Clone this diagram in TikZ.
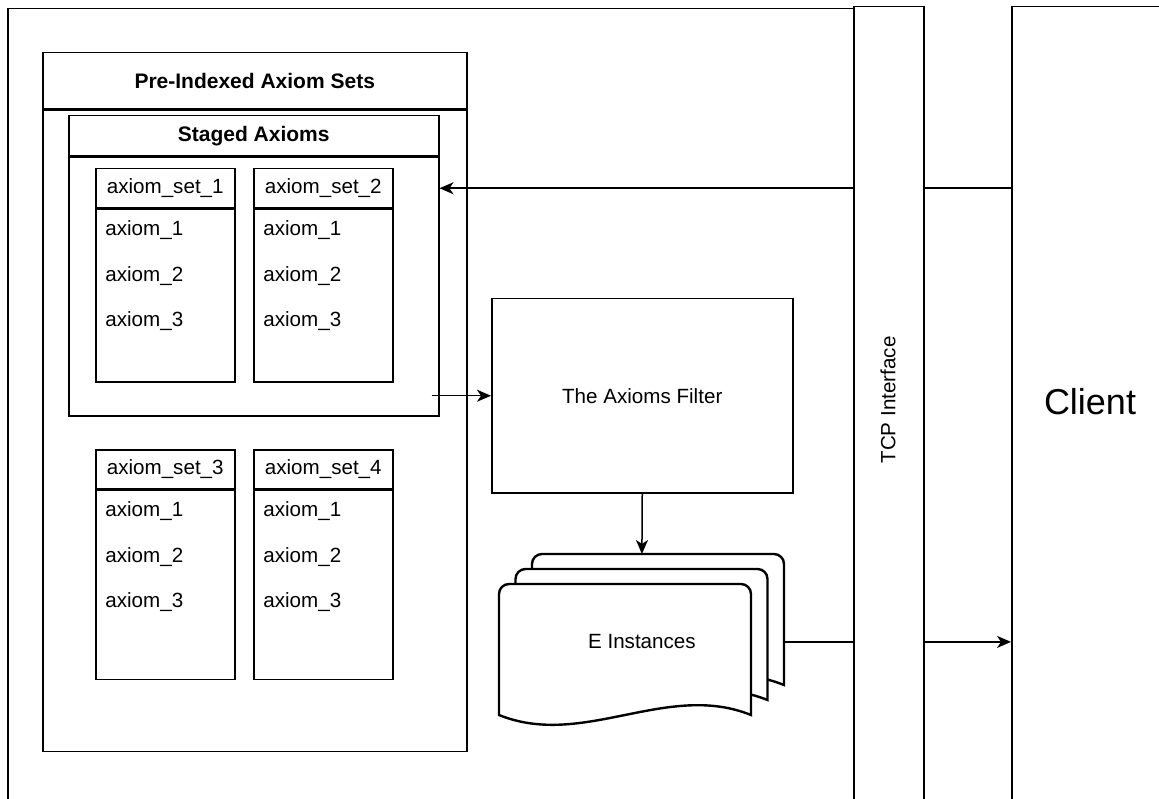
\documentclass[tikz,border=0pt]{standalone}
\usepackage{fontspec}
\setmainfont{Liberation Sans}
\usetikzlibrary{arrows.meta,positioning,calc}
\definecolor{lineColor}{RGB}{0,0,0}

\begin{document}
\begin{tikzpicture}[
  x=0.5pt, y=0.5pt,
  font=\fontsize{10.3}{12}\selectfont,
  lane/.style={draw=lineColor, line width=0.75pt, fill=white, inner sep=0pt},
  box/.style={draw=lineColor, line width=0.75pt, fill=white, inner sep=0pt},
  head/.style={box, font=\fontsize{10.5}{12}\selectfont\bfseries},
  sethead/.style={box, minimum width=69.5pt, minimum height=19.5pt},
  item/.style={inner sep=0pt, anchor=west},
  page/.style={draw=lineColor, line width=1.2pt, fill=white},
  arrow/.style={-{Stealth[length=7pt, width=6pt, inset=2pt]}, line width=0.75pt, draw=lineColor},
  wire/.style={line width=0.75pt, draw=lineColor}
]
\useasboundingbox (0,0) rectangle (1159,798);

% Lanes
\node[lane, minimum width=423pt, minimum height=410pt, anchor=north west] (server) at (7,790) {};
\node[lane, minimum width=35pt, minimum height=410pt, anchor=north west] (tcp) at (853,792) {};
\node[lane, minimum width=79pt, minimum height=410pt, anchor=north west] (client) at (1011,792) {};
\node[rotate=90] (tcplbl) at (888,398) {TCP Interface};
\node[font=\fontsize{18}{22}\selectfont] (clientlbl) at (1090,396) {Client};

% Pre-indexed axiom sets
\node[head, minimum width=212pt, minimum height=28pt, anchor=north west] (pre) at (42,746) {Pre-Indexed Axiom Sets};
\node[box, minimum width=212pt, minimum height=320.5pt, anchor=north] (prebody) at (pre.south) {};

% Staged axioms
\node[head, minimum width=185pt, minimum height=20pt, anchor=north west] (staged) at (68,683) {Staged Axioms};
\node[box, minimum width=185pt, minimum height=129.5pt, anchor=north] (stagedbody) at (staged.south) {};

% Axiom sets
\foreach \s/\x/\y/\h in {1/95/168/173, 2/253/168/173, 3/95/449/189, 4/253/449/189} {
  \node[sethead, anchor=north west] (set\s) at (\x,{798-\y}) {axiom\_set\_\s};
  \node[box, minimum width=69.5pt, minimum height=\h*0.5pt, anchor=north] (body\s) at (set\s.south) {};
  \foreach \i in {1,2,3}
    \node[item] at ($(body\s.north west)+(10,{-22-45.5*(\i-1)})$) {axiom\_\i};
}

% Filter
\node[box, minimum width=150.5pt, minimum height=97pt, anchor=north west] (filter) at (491,500) {The Axioms Filter};

% E instances (stacked pages)
\foreach \o [evaluate=\o as \px using 499+16.5*\o, evaluate=\o as \py using 214+15*\o] in {2,1,0}
  \draw[page] (\px,{\py-131}) [rounded corners=5pt] -- (\px,\py) -- ({\px+252},\py) [sharp corners] -- ({\px+252},{\py-131})
    .. controls ({\px+168},{\py-97}) and ({\px+84},{\py-165}) .. (\px,{\py-131}) -- cycle;
\node[minimum width=142.5pt, minimum height=87.5pt, inner sep=0pt, anchor=north west] (einst) at (499,244) {E Instances};

% Connectors
\draw[arrow] (tcp.west |- set2.east) -- (stagedbody.east |- set2.east);
\draw[wire] (tcp.east |- set2.east) -- (client.west |- set2.east);
\draw[arrow] ($(stagedbody.east |- filter.west)+(-8,0)$) -- (filter.west);
\draw[arrow] (filter.south) -- (einst.north);
\draw[wire] (einst.east) -- (tcp.west |- einst.east);
\draw[arrow] (tcp.east |- einst.east) -- (client.west |- einst.east);

\end{tikzpicture}
\end{document}
